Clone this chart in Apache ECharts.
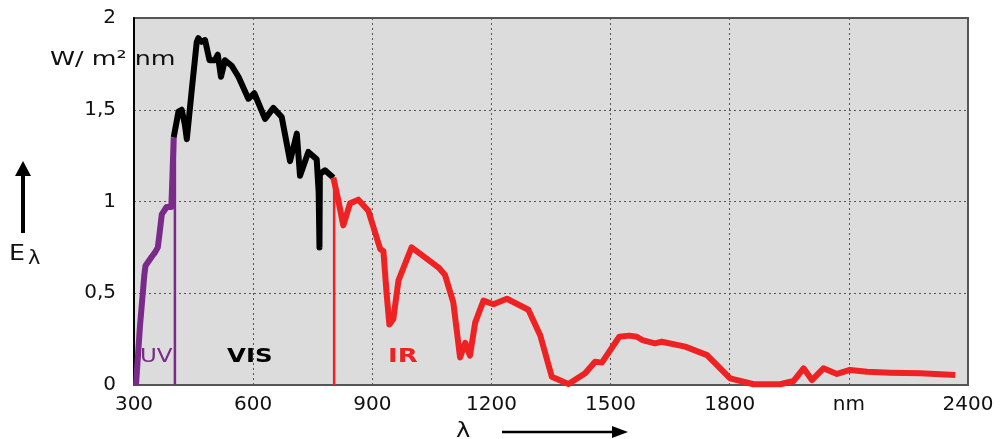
<!DOCTYPE html>
<html>
<head>
<meta charset="utf-8">
<script src="https://cdn.jsdelivr.net/npm/echarts@6/dist/echarts.min.js"></script>
<style>html,body{margin:0;padding:0;background:#fff}#c{width:1002px;height:439px}</style>
</head>
<body>
<div id="c"></div>
<script>
var xTickLabels = ['300','600','900','1200','1500','1800','nm','2400'];
var yTickLabels = ['0','0,5','1','1,5','2'];

var uvData = [[305,0],[315,0.32],[326,0.6],[329,0.65],[334,0.66],[345,0.70],[352,0.72],[360,0.75],[364,0.82],[370,0.93],[382,0.97],[394,0.97],[397,1.15],[400,1.35]];
var uvEdge = [[403,0],[403,1.35]];
var visData = [[400,1.35],[412,1.49],[420,1.50],[428,1.42],[433,1.34],[446,1.62],[458,1.87],[462,1.89],[470,1.87],[479,1.88],[490,1.77],[504,1.77],[511,1.80],[519,1.68],[529,1.77],[546,1.74],[563,1.68],[588,1.56],[603,1.59],[630,1.45],[651,1.51],[672,1.46],[693,1.22],[710,1.37],[718,1.14],[739,1.27],[760,1.23],[765,1.05],[767,0.75],[768,1.15],[781,1.17],[802,1.13]];
var irData = [[802,1.13],[815,1.0],[827,0.87],[844,0.99],[865,1.01],[890,0.95],[920,0.74],[928,0.73],[936,0.5],[943,0.33],[953,0.36],[966,0.57],[999,0.75],[1067,0.64],[1083,0.60],[1104,0.45],[1121,0.15],[1134,0.23],[1146,0.16],[1159,0.34],[1180,0.46],[1205,0.44],[1239,0.47],[1293,0.41],[1323,0.27],[1352,0.045],[1394,0.005],[1436,0.064],[1461,0.127],[1478,0.122],[1522,0.263],[1547,0.269],[1566,0.263],[1580,0.245],[1612,0.227],[1629,0.236],[1688,0.209],[1743,0.163],[1801,0.036],[1860,0.004],[1927,0.004],[1961,0.022],[1986,0.091],[2007,0.027],[2036,0.091],[2070,0.06],[2103,0.082],[2146,0.072],[2204,0.067],[2280,0.064],[2368,0.054]];
var irEdge = [[804,0],[804,1.13]];

var purple = '#7a2a88', red = '#ee2222';
var chart = echarts.init(document.getElementById('c'));
var font = 'DejaVu Sans';
function txt(x, y, s, f, fill, sx) {
  return {type:'text', x:x, y:y, scaleX:sx || 1, z:10,
    style:{text:s, font:f, fill:fill, textVerticalAlign:'top'}};
}
chart.setOption({
  animation: false,
  grid: {left:134, top:18, width:834, height:367, show:true, backgroundColor:'#dcdcdc', borderColor:'#555', borderWidth:2},
  xAxis: {type:'value', min:300, max:2400, interval:300,
    axisLine:{show:true, lineStyle:{color:'#555', width:2}},
    axisTick:{show:false},
    splitLine:{show:true, lineStyle:{color:'#555', type:[2,3], width:1}},
    axisLabel:{color:'#111', fontFamily:font, fontSize:20, margin:10,
      formatter:function(v){ return xTickLabels[Math.round((v-300)/300)]; }}
  },
  yAxis: {type:'value', min:0, max:2, interval:0.5,
    axisLine:{show:true, lineStyle:{color:'#000', width:2}},
    axisTick:{show:false},
    splitLine:{show:true, lineStyle:{color:'#555', type:[2,3], width:1}},
    axisLabel:{color:'#111', fontFamily:font, fontSize:20, margin:18,
      formatter:function(v){ return yTickLabels[Math.round(v/0.5)]; }}
  },
  series: [
    {type:'line', data:uvEdge, symbol:'none', lineStyle:{color:purple, width:2.5}, z:3},
    {type:'line', data:irEdge, symbol:'none', lineStyle:{color:red, width:2.5}, z:3},
    {type:'line', data:uvData, symbol:'none', lineStyle:{color:purple, width:6, join:'round'}, z:4},
    {type:'line', data:visData, symbol:'none', lineStyle:{color:'#000', width:6, join:'round'}, z:4},
    {type:'line', data:irData, symbol:'none', lineStyle:{color:red, width:6, join:'round'}, z:4}
  ],
  graphic: [
    txt(50, 50, 'W/ m² nm', '20px '+font, '#111', 1.27),
    txt(140, 347, 'UV', '20px '+font, purple, 1.15),
    txt(227, 347, 'VIS', 'bold 20px '+font, '#000', 1.22),
    txt(388, 347, 'IR', 'bold 20px '+font, red, 1.3),
    {type:'line', z:10, shape:{x1:23, y1:233, x2:23, y2:170}, style:{stroke:'#000', lineWidth:4}},
    {type:'polygon', z:10, shape:{points:[[15,176],[31,176],[23,161]]}, style:{fill:'#000'}},
    txt(9, 243, 'E', '22px '+font, '#111', 1.15),
    txt(28, 250, 'λ', '19px '+font, '#111', 1.1),
    txt(456, 420, 'λ', '22px '+font, '#111', 1.1),
    {type:'line', z:10, shape:{x1:502, y1:432, x2:618, y2:432}, style:{stroke:'#000', lineWidth:2.5}},
    {type:'polygon', z:10, shape:{points:[[612,426],[612,438],[628,432]]}, style:{fill:'#000'}}
  ]
});
</script>
</body>
</html>
